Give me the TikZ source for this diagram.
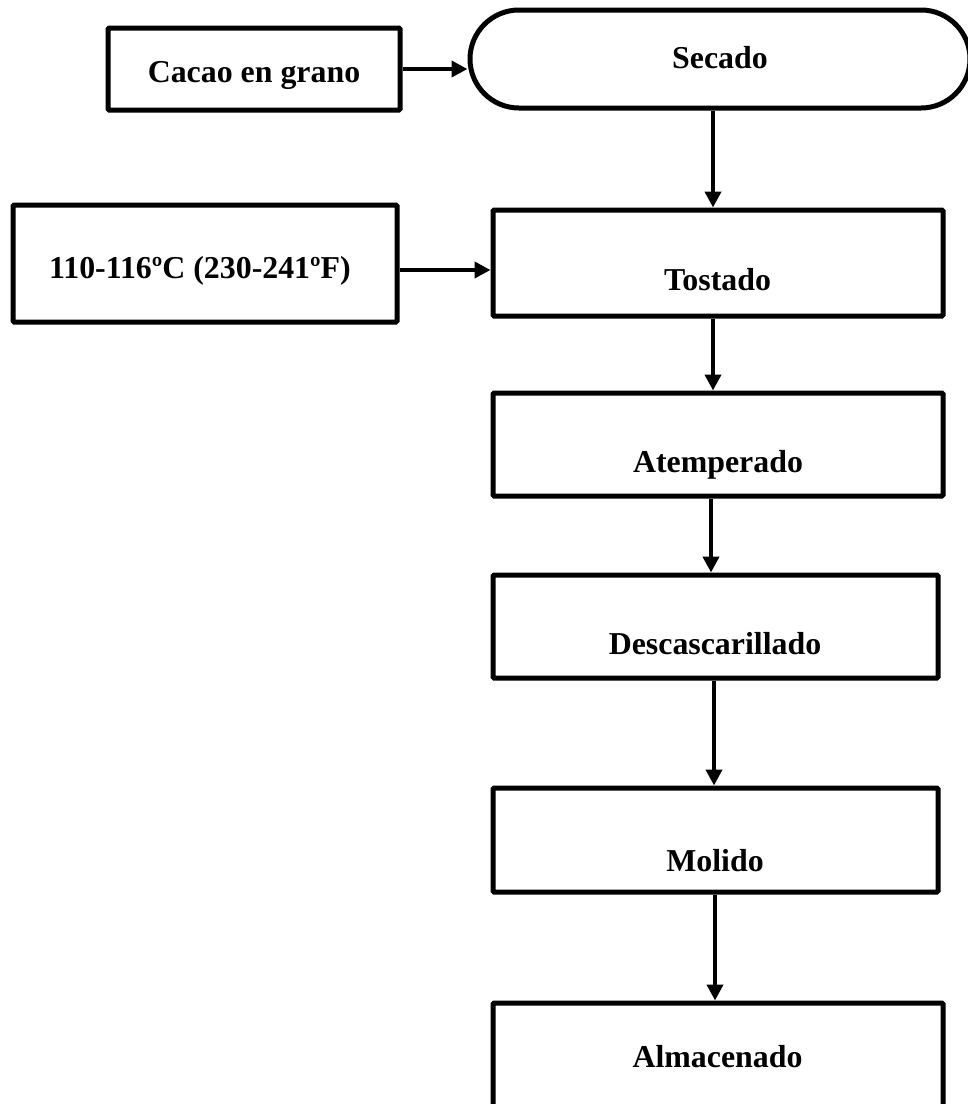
\documentclass[tikz,border=0pt]{standalone}
\usepackage{fontspec}
\setmainfont{Liberation Serif}
\usetikzlibrary{arrows.meta}
\begin{document}
\begin{tikzpicture}[x=0.75pt,y=-0.75pt,
  box/.style={draw, line width=3.75pt, rectangle, rounded corners=0.8pt, inner sep=0pt},
  lbl/.style={font=\fontsize{23.9pt}{28pt}\selectfont\bfseries, inner sep=0pt, anchor=base},
  arr/.style={line width=3.5pt, -{Triangle[length=12pt,width=12pt]}}]
\useasboundingbox (0,0) rectangle (968,1104);
\clip (0,0) rectangle (968,1104);
% boxes
\node[box, minimum width={292*0.75pt}, minimum height={82*0.75pt}] (cacao) at (254,69) {};
\node[box, rounded corners={49*0.75pt}, minimum width={500*0.75pt}, minimum height={98*0.75pt}] (secado) at (720,59) {};
\node[box, minimum width={384*0.75pt}, minimum height={117*0.75pt}] (temp) at (205,263.5) {};
\node[box, minimum width={450*0.75pt}, minimum height={106*0.75pt}] (tostado) at (718,263) {};
\node[box, minimum width={450*0.75pt}, minimum height={103*0.75pt}] (atemp) at (718,444.5) {};
\node[box, minimum width={445*0.75pt}, minimum height={103*0.75pt}] (desc) at (715.5,626.5) {};
\node[box, minimum width={445*0.75pt}, minimum height={104*0.75pt}] (molido) at (715.5,840) {};
\node[box, minimum width={450*0.75pt}, minimum height={140*0.75pt}] (alm) at (718,1073) {};
% labels
\node[lbl] (cacao-t) at (254,82) {Cacao en grano};
\node[lbl] (secado-t) at (720,68) {Secado};
\node[lbl] (temp-t) at (200,278) {110-116ºC (230-241ºF)};
\node[lbl] (tostado-t) at (717.5,290) {Tostado};
\node[lbl] (atemp-t) at (718,472) {Atemperado};
\node[lbl] (desc-t) at (715,654) {Descascarillado};
\node[lbl] (molido-t) at (715,871) {Molido};
\node[lbl] (alm-t) at (717.5,1067) {Almacenado};
% arrow columns
\coordinate (c1) at (713,0);
\coordinate (c2) at (713,0);
\coordinate (c3) at (711,0);
\coordinate (c4) at (714,0);
\coordinate (c5) at (715,0);
% connectors
\draw[arr] (cacao.east) -- (cacao.east -| secado.west);
\draw[arr] ([yshift={-6.5*0.75pt}]temp.east) -- ([yshift={-6.5*0.75pt}]temp.east -| tostado.west);
\draw[arr] (secado.south -| c1) -- (tostado.north -| c1);
\draw[arr] (tostado.south -| c2) -- (atemp.north -| c2);
\draw[arr] (atemp.south -| c3) -- (desc.north -| c3);
\draw[arr] (desc.south -| c4) -- (molido.north -| c4);
\draw[arr] (molido.south -| c5) -- (alm.north -| c5);
\end{tikzpicture}
\end{document}
